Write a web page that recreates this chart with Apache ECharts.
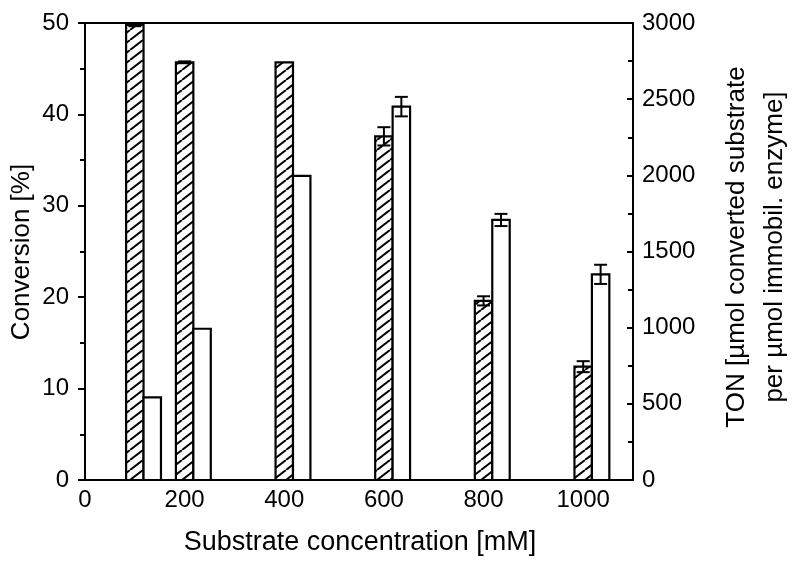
<!DOCTYPE html>
<html>
<head>
<meta charset="utf-8">
<script src="https://cdn.jsdelivr.net/npm/echarts@6/dist/echarts.min.js"></script>
<style>html,body{margin:0;padding:0;background:#fff}#c{width:800px;height:569px}</style>
</head>
<body>
<div id="c"></div>
<script>
// ---- data ----
const concentrations = [100, 200, 400, 600, 800, 1000];
const conversion = [49.8, 45.7, 45.7, 37.6, 19.6, 12.4];
const conversionErr = [0.15, 0.1, 0, 1.0, 0.5, 0.6];
const ton = [543, 993, 1996, 2451, 1707, 1350];
const tonErr = [0, 0, 0, 64, 40, 63];
const xTitle = 'Substrate concentration [mM]';
const yLeftTitle = 'Conversion [%]';
const yRightTitle = ['TON [µmol converted substrate', 'per µmol immobil. enzyme]'];

// ---- hatch pattern ----
const TW = 13, TH = 10;
const tile = document.createElement('canvas');
tile.width = TW; tile.height = TH;
const g = tile.getContext('2d');
g.fillStyle = '#fff'; g.fillRect(0, 0, TW, TH);
g.strokeStyle = '#000'; g.lineWidth = 2;
[-TW, 0, TW].forEach(o => { g.beginPath(); g.moveTo(o, TH); g.lineTo(o + TW, 0); g.stroke(); });
const hatch = { image: tile, repeat: 'repeat' };

const FONT = 'Liberation Sans';
const BAR_W = 35;        // bar width in x-axis units
function barRender(fill, offset) {
  return function (params, api) {
    const x = api.value(0), y = api.value(1);
    const p0 = api.coord([x + offset - BAR_W / 2, y]);
    const p1 = api.coord([x + offset + BAR_W / 2, 0]);
    return {
      type: 'rect',
      shape: { x: p0[0], y: p0[1], width: p1[0] - p0[0], height: p1[1] - p0[1] },
      style: { fill: fill, stroke: '#000', lineWidth: 2.2 }
    };
  };
}
function errRender(offset) {
  return function (params, api) {
    const x = api.value(0), y = api.value(1), e = api.value(2);
    if (!e) return null;
    const top = api.coord([x + offset, y + e]);
    const bot = api.coord([x + offset, y - e]);
    const hw = 6.5;
    const st = { stroke: '#000', lineWidth: 2 };
    return {
      type: 'group',
      children: [
        { type: 'line', shape: { x1: top[0], y1: top[1], x2: bot[0], y2: bot[1] }, style: st },
        { type: 'line', shape: { x1: top[0] - hw, y1: top[1], x2: top[0] + hw, y2: top[1] }, style: st },
        { type: 'line', shape: { x1: bot[0] - hw, y1: bot[1], x2: bot[0] + hw, y2: bot[1] }, style: st }
      ]
    };
  };
}
const plain = v => String(v);

const chart = echarts.init(document.getElementById('c'), null, { renderer: 'canvas' });
const axisLine = { show: true, onZero: false, lineStyle: { color: '#000', width: 2 } };
chart.setOption({
  animation: false,
  backgroundColor: '#fff',
  textStyle: { fontFamily: FONT },
  grid: { left: 85, right: 167, top: 23, bottom: 89, show: true, borderColor: '#000', borderWidth: 2, backgroundColor: 'transparent' },
  xAxis: {
    type: 'value', min: 0, max: 1100, interval: 200,
    axisLine: axisLine, axisTick: { show: false }, splitLine: { show: false },
    axisLabel: { color: '#000', fontSize: 24, fontFamily: FONT, margin: 8, showMaxLabel: false, formatter: plain }
  },
  yAxis: [
    {
      type: 'value', min: 0, max: 50, interval: 10, position: 'left',
      axisLine: axisLine,
      axisTick: { show: true, length: 7, inside: false, lineStyle: { color: '#000', width: 2 } },
      minorTick: { show: true, splitNumber: 2, length: 5, lineStyle: { color: '#000', width: 2 } },
      splitLine: { show: false },
      axisLabel: { color: '#000', fontSize: 24, fontFamily: FONT, margin: 16, formatter: plain }
    },
    {
      type: 'value', min: 0, max: 3000, interval: 500, position: 'right',
      axisLine: axisLine,
      axisTick: { show: true, length: 6, inside: true, lineStyle: { color: '#000', width: 2 } },
      minorTick: { show: true, splitNumber: 2, length: 5, lineStyle: { color: '#000', width: 2 } },
      splitLine: { show: false },
      axisLabel: { color: '#000', fontSize: 24, fontFamily: FONT, margin: 9, formatter: plain }
    }
  ],
  graphic: [
    { type: 'text', x: 360, y: 543, style: { text: xTitle, font: '27px "' + FONT + '"', fill: '#000', textAlign: 'center', textVerticalAlign: 'middle' } },
    { type: 'text', x: 22, y: 252, rotation: Math.PI / 2, style: { text: yLeftTitle, font: '26px "' + FONT + '"', fill: '#000', textAlign: 'center', textVerticalAlign: 'middle' } },
    { type: 'text', x: 737, y: 247, rotation: Math.PI / 2, style: { text: yRightTitle[0], font: '26px "' + FONT + '"', fill: '#000', textAlign: 'center', textVerticalAlign: 'middle' } },
    { type: 'text', x: 775, y: 247, rotation: Math.PI / 2, style: { text: yRightTitle[1], font: '26px "' + FONT + '"', fill: '#000', textAlign: 'center', textVerticalAlign: 'middle' } }
  ],
  series: [
    { type: 'custom', name: 'Conversion', yAxisIndex: 0, z: 2, renderItem: barRender(hatch, 0),
      data: concentrations.map((c, i) => [c, conversion[i]]), encode: { x: 0, y: 1 } },
    { type: 'custom', name: 'TON', yAxisIndex: 1, z: 2, renderItem: barRender('#fff', BAR_W),
      data: concentrations.map((c, i) => [c, ton[i]]), encode: { x: 0, y: 1 } },
    { type: 'custom', name: 'Conversion err', yAxisIndex: 0, z: 3, renderItem: errRender(0),
      data: concentrations.map((c, i) => [c, conversion[i], conversionErr[i]]), encode: { x: 0, y: 1 } },
    { type: 'custom', name: 'TON err', yAxisIndex: 1, z: 3, renderItem: errRender(BAR_W),
      data: concentrations.map((c, i) => [c, ton[i], tonErr[i]]), encode: { x: 0, y: 1 } }
  ]
});
</script>
</body>
</html>
